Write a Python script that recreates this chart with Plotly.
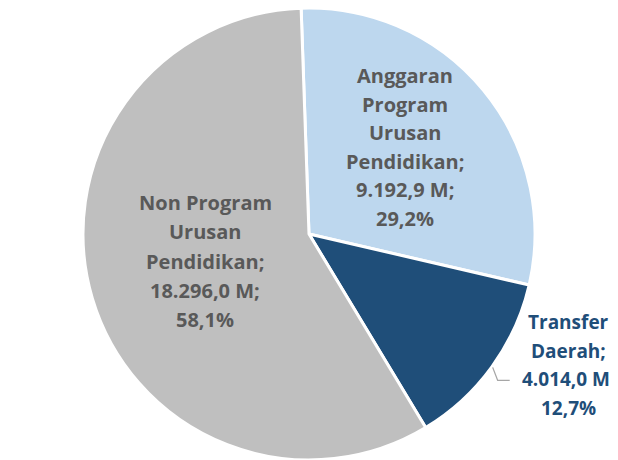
import math
import plotly.graph_objects as go

# data
labels = ["Anggaran Program Urusan Pendidikan", "Transfer Daerah", "Non Program Urusan Pendidikan"]
label_lines = [
    ["Anggaran", "Program", "Urusan", "Pendidikan;"],
    ["Transfer", "Daerah;"],
    ["Non Program", "Urusan", "Pendidikan;"],
]
values = [9192.9, 4014.0, 18296.0]
colors = ["#BDD7EE", "#1F4E79", "#BFBFBF"]
text_colors = ["#595959", "#1F4E79", "#595959"]

W, H = 618, 460
OFF = 8  # page margin around the plot div
# pie placement (pixels, in figure coords)
r = 226
cx, cy = 309 - OFF, r
rotation = -2

# label block centres (pixels, in figure coords), line spacing, font size
label_pos = [(405 - OFF, 147 - OFF), (568 - OFF, 365 - OFF), (205 - OFF, 261 - OFF)]
line_gap = [28.6, 28.6, 29.4]
font_size = [20, 19, 20]


def fmt_num(v):
    s = f"{v:,.1f}"
    return s.replace(",", "X").replace(".", ",").replace("X", ".")


def px(x):
    return x / W


def py(y):
    return 1 - y / H


total = sum(values)
fig = go.Figure(go.Pie(
    labels=labels,
    values=values,
    sort=False,
    direction="clockwise",
    rotation=rotation,
    marker=dict(colors=colors, line=dict(color="white", width=3)),
    textinfo="none",
    hoverinfo="label+value+percent",
    domain=dict(x=[0, 2 * cx / W], y=[1 - (cy + r) / H, 1]),
    showlegend=False,
))

annotations = []
for i, v in enumerate(values):
    pct = f"{v / total * 100:.1f}".replace(".", ",") + "%"
    lines = label_lines[i] + [fmt_num(v) + " M;", pct]
    n = len(lines)
    x0, y0 = label_pos[i]
    for k, t in enumerate(lines):
        yy = y0 + (k - (n - 1) / 2) * line_gap[i]
        annotations.append(dict(
            x=px(x0), y=py(yy), xref="paper", yref="paper",
            text=t, showarrow=False, xanchor="center", yanchor="middle",
            font=dict(family="Open Sans", size=font_size[i], color=text_colors[i], weight="bold"),
        ))

# leader line for the Transfer Daerah label, starting at the slice mid-angle
start = sum(values[:1]) / total * 360 + rotation
mid = math.radians(start + values[1] / total * 360 / 2)
sx = cx + (r + 1) * math.sin(mid)
sy = cy - (r + 1) * math.cos(mid)
ex, ey = sx + 5, sy + 13
fx = ex + 12
path = f"M {px(sx)},{py(sy)} L {px(ex)},{py(ey)} L {px(fx)},{py(ey)}"

fig.update_layout(
    width=W, height=H,
    margin=dict(l=0, r=0, t=0, b=0),
    paper_bgcolor="white",
    annotations=annotations,
    shapes=[dict(type="path", xref="paper", yref="paper", path=path,
                 line=dict(color="#A6A6A6", width=1.3))],
)

fig.write_html("out.html")
